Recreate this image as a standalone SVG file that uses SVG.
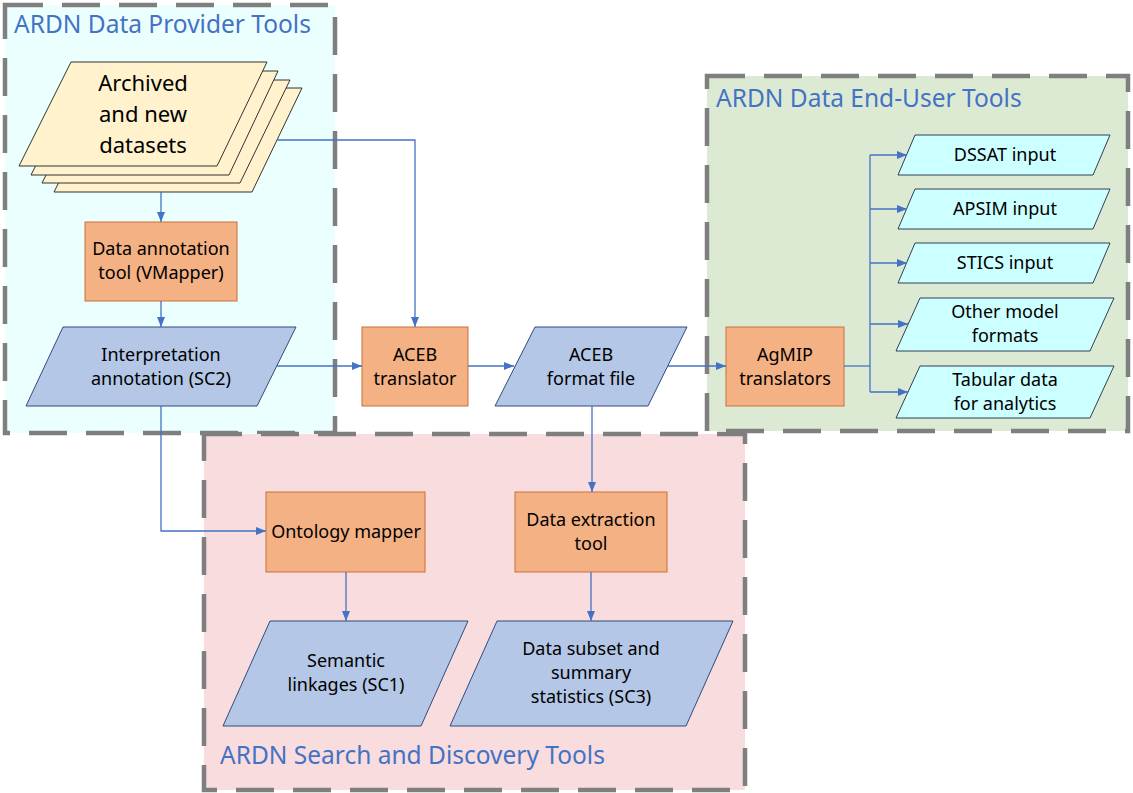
<svg xmlns="http://www.w3.org/2000/svg" width="1133" height="793" viewBox="0 0 1133 793">
<style>
.grp{stroke:#7F7F7F;stroke-width:4.5;stroke-dasharray:38 19}
.title{font-family:"Noto Sans","Open Sans",sans-serif;font-size:24.5px;fill:#4472C4}
.t{font-family:"Noto Sans","Open Sans",sans-serif;font-size:18px;fill:#000;text-anchor:middle}
.big{font-family:"Noto Sans","Open Sans",sans-serif;font-size:22px;fill:#000;text-anchor:middle}
.proc{fill:#F4B183;stroke:#C8703A;stroke-width:1}
.data{fill:#B4C7E7;stroke:#2F4B7C;stroke-width:1}
.out{fill:#CCFFFF;stroke:#2F3F55;stroke-width:1}
.doc{fill:#FFF2CC;stroke:#333333;stroke-width:1}
.c{fill:none;stroke:#4472C4;stroke-width:1.3}
</style>
<defs>
<marker id="arr" viewBox="0 0 10 8" refX="10" refY="4" markerWidth="10" markerHeight="8" markerUnits="userSpaceOnUse" orient="auto">
<path d="M0,0 L10,4 L0,8 z" fill="#4472C4"/>
</marker>
</defs>
<rect width="1133" height="793" fill="#FFFFFF"/>

<g id="group-provider">
<rect x="5" y="5" width="330" height="428" fill="#EBFFFF" class="grp"/>
<text class="title" x="14" y="33">ARDN Data Provider Tools</text>
</g>
<g id="group-enduser">
<rect x="707" y="76" width="421" height="355" fill="#DCEAD4" class="grp"/>
<text class="title" x="716" y="107">ARDN Data End-User Tools</text>
</g>
<g id="group-search">
<rect x="204" y="434" width="541" height="356" fill="#F9DCDE" class="grp"/>
<text class="title" x="220" y="764">ARDN Search and Discovery Tools</text>
</g>

<g id="node-datasets">
<polygon class="doc" points="106,88 302,88 252,192 54,192"/>
<polygon class="doc" points="94,80 290,80 240,183 42,183"/>
<polygon class="doc" points="83,71 278,71 229,175 31,175"/>
<polygon class="doc" points="71,62 267,62 217,166 19,166"/>
<text class="big" x="143" y="91">Archived</text>
<text class="big" x="143" y="122">and new</text>
<text class="big" x="143" y="153">datasets</text>
</g>

<g id="node-annotation-tool">
<rect class="proc" x="85" y="222" width="152" height="79"/>
<text class="t" x="161" y="255">Data annotation</text>
<text class="t" x="161" y="279">tool (VMapper)</text>
</g>

<g id="node-interpretation">
<polygon class="data" points="63,327 296,327 257,406 26,406"/>
<text class="t" x="161" y="361">Interpretation</text>
<text class="t" x="161" y="385">annotation (SC2)</text>
</g>

<g id="node-aceb-translator">
<rect class="proc" x="362" y="327" width="106" height="79"/>
<text class="t" x="415" y="361">ACEB</text>
<text class="t" x="415" y="385">translator</text>
</g>

<g id="node-aceb-format">
<polygon class="data" points="535,327 687,327 648,406 495,406"/>
<text class="t" x="591" y="361">ACEB</text>
<text class="t" x="591" y="385">format file</text>
</g>

<g id="node-agmip">
<rect class="proc" x="726" y="327" width="118" height="79"/>
<text class="t" x="785" y="361">AgMIP</text>
<text class="t" x="785" y="385">translators</text>
</g>

<g id="node-dssat">
<polygon class="out" points="915,135 1110,135 1093,175 898,175"/>
<text class="t" x="1005" y="161">DSSAT input</text>
</g>
<g id="node-apsim">
<polygon class="out" points="915,189 1110,189 1093,229 898,229"/>
<text class="t" x="1005" y="215">APSIM input</text>
</g>
<g id="node-stics">
<polygon class="out" points="915,243 1110,243 1093,283 898,283"/>
<text class="t" x="1005" y="269">STICS input</text>
</g>
<g id="node-other">
<polygon class="out" points="920,298 1114,298 1090,351 896,351"/>
<text class="t" x="1005" y="318">Other model</text>
<text class="t" x="1005" y="342">formats</text>
</g>
<g id="node-tabular">
<polygon class="out" points="920,366 1114,366 1090,418 896,418"/>
<text class="t" x="1005" y="386">Tabular data</text>
<text class="t" x="1005" y="410">for analytics</text>
</g>

<g id="node-ontology">
<rect class="proc" x="266" y="492" width="159" height="80"/>
<text class="t" x="346" y="538">Ontology mapper</text>
</g>
<g id="node-extraction">
<rect class="proc" x="515" y="492" width="152" height="80"/>
<text class="t" x="591" y="526">Data extraction</text>
<text class="t" x="591" y="550">tool</text>
</g>
<g id="node-semantic">
<polygon class="data" points="270,621 468,621 421,726 223,726"/>
<text class="t" x="346" y="667">Semantic</text>
<text class="t" x="346" y="691">linkages (SC1)</text>
</g>
<g id="node-subset">
<polygon class="data" points="497,621 733,621 686,726 450,726"/>
<text class="t" x="591" y="655">Data subset and</text>
<text class="t" x="591" y="679">summary</text>
<text class="t" x="591" y="703">statistics (SC3)</text>
</g>

<g id="connectors">
<path class="c" d="M161,192 V222" marker-end="url(#arr)"/>
<path class="c" d="M161,301 V327" marker-end="url(#arr)"/>
<path class="c" d="M277,140 H415 V327" marker-end="url(#arr)"/>
<path class="c" d="M277,366 H362" marker-end="url(#arr)"/>
<path class="c" d="M468,366 H514" marker-end="url(#arr)"/>
<path class="c" d="M668,366 H726" marker-end="url(#arr)"/>
<path class="c" d="M161,406 V531 H266" marker-end="url(#arr)"/>
<path class="c" d="M346,572 V621" marker-end="url(#arr)"/>
<path class="c" d="M592,406 V492" marker-end="url(#arr)"/>
<path class="c" d="M591,572 V621" marker-end="url(#arr)"/>
<path class="c" d="M844,366 H870"/>
<path class="c" d="M870,155 V392"/>
<path class="c" d="M870,155 H907" marker-end="url(#arr)"/>
<path class="c" d="M870,209 H907" marker-end="url(#arr)"/>
<path class="c" d="M870,263 H907" marker-end="url(#arr)"/>
<path class="c" d="M870,324 H908" marker-end="url(#arr)"/>
<path class="c" d="M870,392 H908" marker-end="url(#arr)"/>
</g>
</svg>
